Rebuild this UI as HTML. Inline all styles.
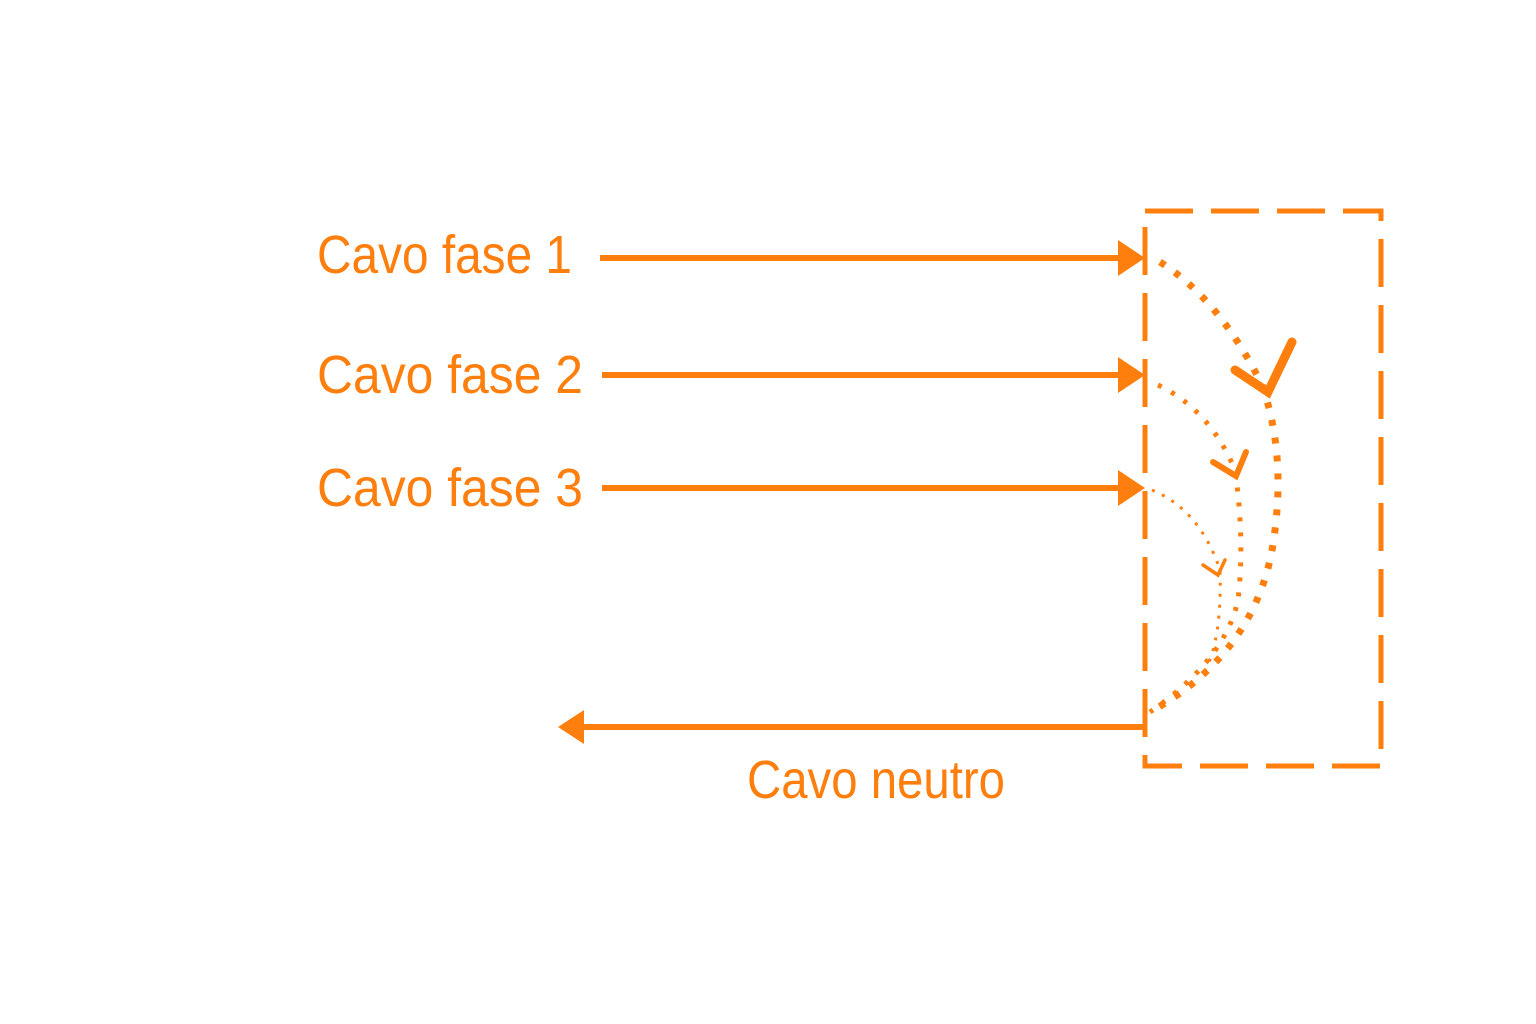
<!DOCTYPE html>
<html><head><style>
html,body{margin:0;padding:0;background:#fff;width:1536px;height:1024px;overflow:hidden}
text{font-family:"Liberation Sans",sans-serif;fill:#ff7f0e;font-size:54px}
</style></head><body>
<svg width="1536" height="1024" viewBox="0 0 1536 1024" xmlns="http://www.w3.org/2000/svg">
<g stroke="#ff7f0e" fill="none">
<rect x="1145" y="211" width="236" height="555" stroke-width="5" stroke-dasharray="48,18"/>
<line x1="600" y1="258" x2="1125" y2="258" stroke-width="6"/>
<line x1="602" y1="375" x2="1125" y2="375" stroke-width="6"/>
<line x1="602" y1="488" x2="1125" y2="488" stroke-width="6"/>
<line x1="1145" y1="727" x2="578" y2="727" stroke-width="6"/>
<path d="M1160 262 Q1220 300 1262 385 Q1285 450 1275 530 Q1262 650 1150 712" stroke-width="7" stroke-dasharray="6,12"/>
<path d="M1158 385 Q1210 410 1235 470 Q1245 540 1238 600 Q1225 660 1150 712" stroke-width="5" stroke-dasharray="4,11"/>
<path d="M1152 490 Q1200 510 1220 570 Q1222 640 1205 670" stroke-width="3" stroke-dasharray="3,8"/>
<path d="M1235 370 L1268 392 L1292 342" stroke-width="9" stroke-linecap="round"/>
<path d="M1213 462 L1236 476 L1246 452" stroke-width="6" stroke-linecap="round"/>
<path d="M1203 565 L1218 575 L1225 560" stroke-width="3.5" stroke-linecap="round"/>
</g>
<g fill="#ff7f0e">
<polygon points="1118,240 1145,258 1118,276"/>
<polygon points="1118,357 1145,375 1118,393"/>
<polygon points="1118,470 1145,488 1118,506"/>
<polygon points="584,710 558,727 584,744"/>
</g>
<text x="317" y="273" textLength="255" lengthAdjust="spacingAndGlyphs">Cavo fase 1</text>
<text x="317" y="393" textLength="266" lengthAdjust="spacingAndGlyphs">Cavo fase 2</text>
<text x="317" y="506" textLength="266" lengthAdjust="spacingAndGlyphs">Cavo fase 3</text>
<text x="747" y="798" textLength="258" lengthAdjust="spacingAndGlyphs">Cavo neutro</text>
</svg>
</body></html>
